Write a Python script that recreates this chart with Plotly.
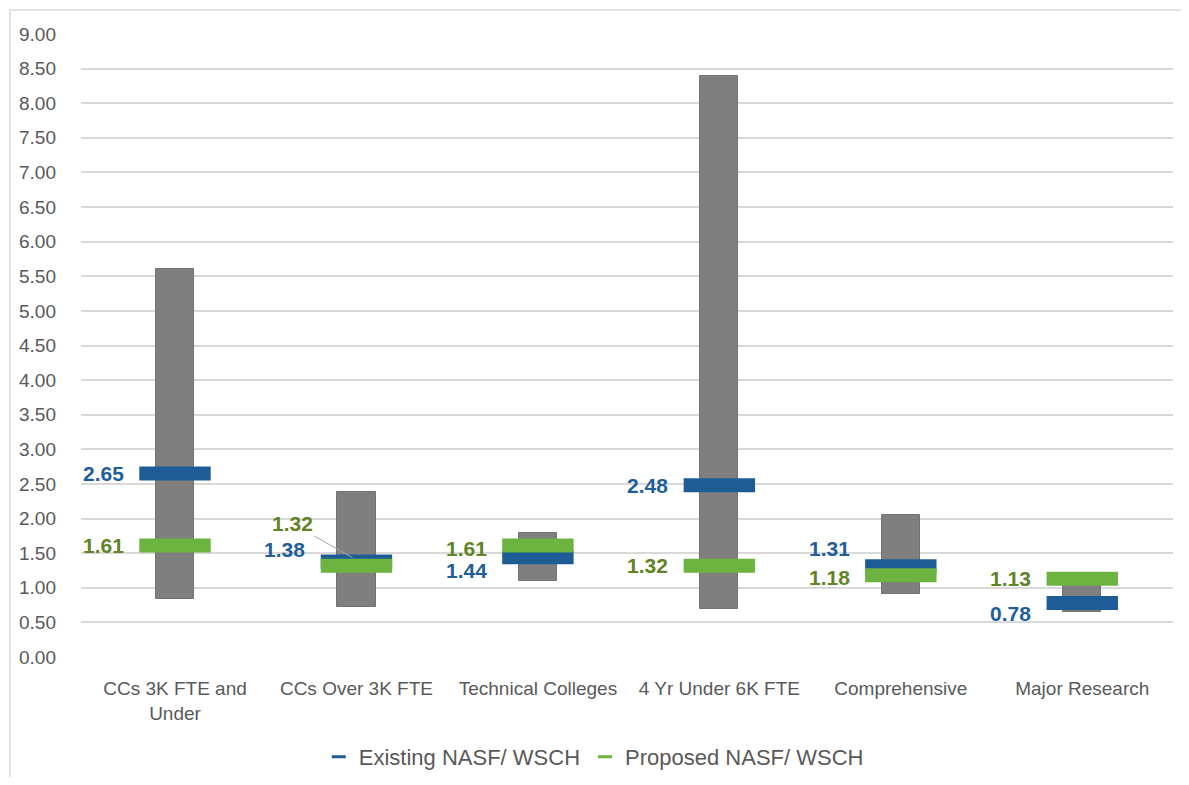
import plotly.graph_objects as go

categories = ["CCs 3K FTE and<br>Under", "CCs Over 3K FTE", "Technical Colleges",
              "4 Yr Under 6K FTE", "Comprehensive", "Major Research"]
range_low = [0.84, 0.72, 1.10, 0.69, 0.91, 0.65]
range_high = [5.60, 2.39, 1.79, 8.40, 2.05, 1.12]
existing = [2.65, 1.38, 1.44, 2.48, 1.31, 0.78]
proposed = [1.61, 1.32, 1.61, 1.32, 1.18, 1.13]
y_ticks = [i * 0.5 for i in range(19)]

# label vertical offsets (px) to avoid overlaps, as in the original
existing_label_shift = [0, 12, -13, 0, 18, -10]
proposed_label_shift = [0, None, -3, 0, -2, 0]

BLUE = "#1D5C97"
GREEN = "#6DB33F"
BLUE_TXT = "#1F5E99"
GREEN_TXT = "#5F8428"
FONT = "Liberation Sans, Arial, sans-serif"

fig = go.Figure()
fig.add_trace(go.Bar(
    x=categories, y=[h - l for h, l in zip(range_high, range_low)], base=range_low,
    width=0.21, marker=dict(color="#7F7F7F", line=dict(color="#737373", width=1)),
    showlegend=False, hoverinfo="skip"))
fig.add_trace(go.Scatter(
    x=categories, y=existing, mode="markers", showlegend=False,
    marker=dict(symbol="line-ew", size=51, line=dict(color=BLUE, width=14))))
fig.add_trace(go.Scatter(
    x=categories, y=proposed, mode="markers", showlegend=False,
    marker=dict(symbol="line-ew", size=51, line=dict(color=GREEN, width=14))))
# legend entries
fig.add_trace(go.Scatter(
    x=[None], y=[None], mode="markers", name="Existing NASF/ WSCH",
    marker=dict(symbol="line-ew", size=10, line=dict(color=BLUE, width=3))))
fig.add_trace(go.Scatter(
    x=[None], y=[None], mode="markers", name="Proposed NASF/ WSCH",
    marker=dict(symbol="line-ew", size=10, line=dict(color=GREEN, width=3))))

lab_font_b = dict(family=FONT, size=21, color=BLUE_TXT)
lab_font_g = dict(family=FONT, size=21, color=GREEN_TXT)
for i, c in enumerate(categories):
    fig.add_annotation(x=c, y=existing[i], text="<b>%.2f</b>" % existing[i],
                       showarrow=False, xanchor="right", yanchor="middle",
                       xshift=-49, yshift=existing_label_shift[i], font=lab_font_b)
    if proposed_label_shift[i] is None:
        fig.add_annotation(x=c, y=proposed[i], text="<b>%.2f</b>" % proposed[i],
                           showarrow=True, arrowhead=0, arrowwidth=1,
                           arrowcolor="#A6A6A6", ax=-60, ay=-34,
                           xshift=-4, yshift=8, font=lab_font_g)
    else:
        fig.add_annotation(x=c, y=proposed[i], text="<b>%.2f</b>" % proposed[i],
                           showarrow=False, xanchor="right", yanchor="middle",
                           xshift=-49, yshift=proposed_label_shift[i], font=lab_font_g)

# outer chart border
fig.add_shape(type="rect", xref="paper", yref="paper",
              x0=-0.0650, x1=1.03, y0=-0.3, y1=1.0385,
              line=dict(color="#D9D9D9", width=1.5), fillcolor="rgba(0,0,0,0)", layer="below")

fig.update_layout(
    width=1181, height=769,
    margin=dict(l=73, r=16, t=26, b=120, autoexpand=False),
    paper_bgcolor="white", plot_bgcolor="white",
    font=dict(family=FONT, color="#595959"),
    bargap=0,
    legend=dict(orientation="h", xref="container", yref="container",
                x=0.496, xanchor="center", y=0.026, yanchor="middle",
                font=dict(family=FONT, size=22, color="#595959"), itemwidth=30),
    xaxis=dict(showgrid=False, showline=False, ticks="", tickfont=dict(size=19, color="#595959"),
               ticklabelstandoff=18, fixedrange=True),
    yaxis=dict(range=[0, 9], tickvals=y_ticks, ticktext=["%.2f" % v for v in y_ticks],
               showgrid=True, gridcolor="#D9D9D9", gridwidth=1.5, zeroline=False,
               showline=False, ticks="", ticklabelstandoff=24,
               tickfont=dict(size=19, color="#595959")),
)

fig.write_html("out.html")
